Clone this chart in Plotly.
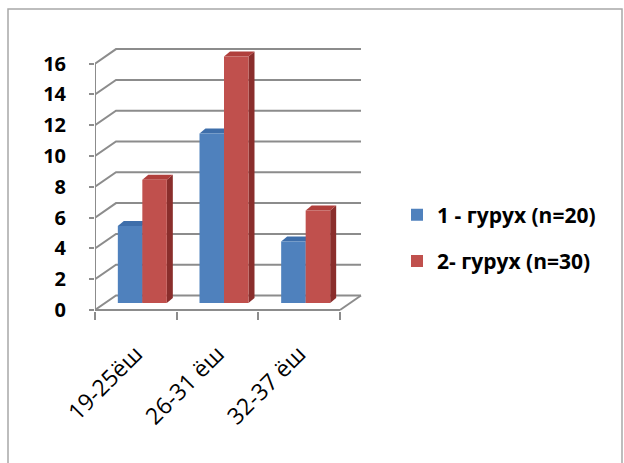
import plotly.graph_objects as go

# Data
categories = ["19-25ёш", "26-31 ёш", "32-37 ёш"]
series_names = ["1 - гурух (n=20)", "2- гурух (n=30)"]
group1 = [5, 11, 4]
group2 = [8, 16, 6]
y_ticks = [0, 2, 4, 6, 8, 10, 12, 14, 16]

# Canvas and plot-area geometry (pixels)
W, H = 624, 463
PL, PR, PT, PB = 95, 370, 40, 311
ZERO_PX = 310            # pixel row of value 0 on the front plane
XS = 245 / 3             # pixels per category
YS = 15.4                # pixels per value unit
X0, X1 = -0.5, 2.5       # front floor edges in category units

x_range = [X0, X0 + (PR - PL) / XS]
y_range = [-(PB - ZERO_PX) / YS, (ZERO_PX - PT) / YS]

# Pseudo-3D depth offsets, expressed in axis units
BACK_DX, BACK_DY = 21 / XS, 14.5 / YS     # back wall relative to front plane
BAR_DX, BAR_DY = 6.5 / XS, 7 / YS         # bar front faces relative to front plane
SIDE_DX, SIDE_DY = 6 / XS, 5 / YS         # bar thickness (depth)
BAR_W = 24.5 / XS

BLUE, BLUE_TOP, BLUE_SIDE = "#4F81BD", "#3E6EAA", "#2F5687"
RED, RED_TOP, RED_SIDE = "#C0504D", "#B03F3C", "#8A2E2C"
GRID = "#8c8c8c"
FONT = "Open Sans"


def px_to_paper_x(px):
    return (px - PL) / (PR - PL)


def px_to_paper_y(py):
    return (PB - py) / (PB - PT)


shapes = []

# Back wall gridlines with their connectors to the front axis
for v in y_ticks:
    path = (f"M {X0},{v} L {X0 + BACK_DX},{v + BACK_DY} "
            f"L {X1 + BACK_DX},{v + BACK_DY}")
    shapes.append(dict(type="path", path=path, xref="x", yref="y",
                       line=dict(color=GRID, width=2), layer="below"))
# Right edge of the floor
shapes.append(dict(type="line", xref="x", yref="y", x0=X1, y0=0,
                   x1=X1 + BACK_DX, y1=BACK_DY,
                   line=dict(color=GRID, width=2), layer="below"))

# Top and side faces of the columns
x_idx = list(range(len(categories)))
series = [
    (group1, BAR_DX - BAR_W, BLUE_TOP, BLUE_SIDE),
    (group2, BAR_DX, RED_TOP, RED_SIDE),
]
for values, offset, top_col, side_col in series:
    for i, v in zip(x_idx, values):
        xl = i + offset
        xr = xl + BAR_W
        top = BAR_DY + v
        side = (f"M {xr},{BAR_DY} L {xr},{top} L {xr + SIDE_DX},{top + SIDE_DY} "
                f"L {xr + SIDE_DX},{BAR_DY + SIDE_DY} Z")
        cap = (f"M {xl},{top} L {xr},{top} L {xr + SIDE_DX},{top + SIDE_DY} "
               f"L {xl + SIDE_DX},{top + SIDE_DY} Z")
        shapes.append(dict(type="path", path=side, xref="x", yref="y",
                           fillcolor=side_col, line=dict(width=0), layer="below"))
        shapes.append(dict(type="path", path=cap, xref="x", yref="y",
                           fillcolor=top_col, line=dict(width=0), layer="below"))

# Front value axis and front floor edge
shapes.append(dict(type="line", xref="x", yref="y", x0=X0, y0=0, x1=X0,
                   y1=max(y_ticks), line=dict(color=GRID, width=2)))
shapes.append(dict(type="line", xref="x", yref="y", x0=X0, y0=0, x1=X1, y1=0,
                   line=dict(color=GRID, width=2)))

# Outer chart border
shapes.append(dict(type="rect", xref="paper", yref="paper",
                   x0=px_to_paper_x(8), x1=px_to_paper_x(622),
                   y0=px_to_paper_y(472), y1=px_to_paper_y(9),
                   line=dict(color="#a8a8a8", width=1.5)))

fig = go.Figure()
fig.add_trace(go.Bar(x=x_idx, y=group1, base=BAR_DY, offset=BAR_DX - BAR_W,
                     width=BAR_W, name=series_names[0], legendgroup="a",
                     marker=dict(color=BLUE, line=dict(width=0))))
fig.add_trace(go.Bar(x=x_idx, y=group2, base=BAR_DY, offset=BAR_DX,
                     width=BAR_W, name=series_names[1], legendgroup="b",
                     marker=dict(color=RED, line=dict(width=0))))

fig.update_layout(
    width=W, height=H,
    margin=dict(l=PL, r=W - PR, t=PT, b=H - PB, pad=0),
    paper_bgcolor="white", plot_bgcolor="white",
    barmode="overlay",
    shapes=shapes,
    showlegend=True,
    legend=dict(x=px_to_paper_x(397), xanchor="left",
                y=px_to_paper_y(238), yanchor="middle",
                tracegroupgap=16, traceorder="grouped",
                font=dict(family=FONT, size=21, color="black", weight="bold"),
                bgcolor="rgba(0,0,0,0)"),
    xaxis=dict(range=x_range, tickmode="array", tickvals=x_idx,
               ticktext=categories, tickangle=-45, ticks="",
               showgrid=False, zeroline=False, showline=False,
               ticklabelstandoff=24,
               tickfont=dict(family=FONT, size=23, color="black"),
               minor=dict(tickmode="array", tickvals=[X0, 0.5, 1.5, X1],
                          ticks="outside", ticklen=8, tickwidth=1.5,
                          tickcolor=GRID, showgrid=False)),
    yaxis=dict(range=y_range, tickmode="array", tickvals=y_ticks,
               ticks="outside", ticklen=5, tickwidth=1.5, tickcolor=GRID,
               showgrid=False, zeroline=False, showline=False,
               ticklabelstandoff=19,
               tickfont=dict(family=FONT, size=20, color="black", weight="bold")),
)

fig.write_html("out.html")
